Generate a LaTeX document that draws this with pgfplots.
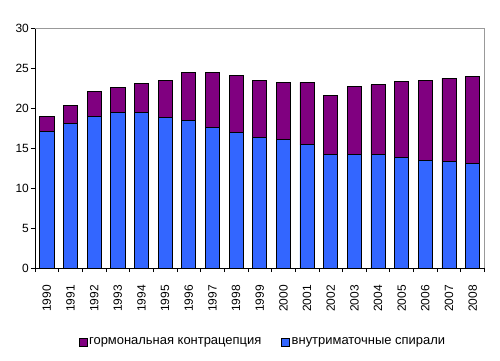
\documentclass[border=0pt]{standalone}
\usepackage{fontspec}
\setmainfont{Liberation Sans}
\usepackage{pgfplots}
\pgfplotsset{compat=1.18}
\definecolor{iudblue}{HTML}{3366FF}
\definecolor{hormpurple}{HTML}{800080}
\begin{document}
\begin{tikzpicture}[x=1bp,y=1bp]
\useasboundingbox (0,0) rectangle (500,360);
\begin{axis}[
  at={(35bp,92bp)}, anchor=south west,
  scale only axis, width=449.5bp, height=240bp,
  ybar stacked, bar width=0.6,
  xmin=-0.5, xmax=18.5, ymin=0, ymax=30,
  ytick={0,5,...,30},
  xtick={0,...,18},
  xticklabels={1990,1991,1992,1993,1994,1995,1996,1997,1998,1999,2000,2001,2002,2003,2004,2005,2006,2007,2008},
  minor xtick={-0.5,0.5,...,18.5},
  major x tick style={draw=none},
  tick align=outside,
  major tick length=4bp, minor tick length=4bp,
  tick style={black, line width=0.8pt},
  axis x line*=bottom, axis y line*=left,
  axis line style={black, line width=0.8pt, -},
  /pgf/number format/assume math mode=true,
  every tick label/.append style={font=\fontsize{12}{14}\selectfont},
  xticklabel style={rotate=90, anchor=east, inner sep=0pt},
  xticklabel shift=13bp,
  yticklabel style={inner sep=2bp},
  legend style={at={(0.507,-0.308)}, anchor=center, draw=none, legend columns=2,
    font=\fontsize{13}{15}\selectfont, /tikz/every even column/.append style={column sep=18bp}},
  legend image code/.code={\draw[#1, draw=black, line width=0.4pt] (0bp,-4bp) rectangle (8bp,4bp);},
  reverse legend,
  clip=false,
]
\addplot[fill=iudblue, draw=black, line width=0.8pt] coordinates {
(0,17.1) (1,18.1) (2,19.0) (3,19.5) (4,19.4) (5,18.8) (6,18.4) (7,17.6) (8,17.0) (9,16.3)
(10,16.05) (11,15.4) (12,14.2) (13,14.25) (14,14.2) (15,13.8) (16,13.4) (17,13.3) (18,13.1)};
\addlegendentry{внутриматочные спирали}
\addplot[fill=hormpurple, draw=black, line width=0.8pt] coordinates {
(0,1.8) (1,2.2) (2,3.05) (3,3.05) (4,3.65) (5,4.6) (6,6.0) (7,6.8) (8,7.05) (9,7.1)
(10,7.15) (11,7.8) (12,7.4) (13,8.45) (14,8.7) (15,9.5) (16,10.0) (17,10.4) (18,10.8)};
\addlegendentry{гормональная контрацепция}
\end{axis}
\begin{scope}[shift={(35bp,92bp)}]
\draw[gray!80, line width=0.8pt] (0,240) -- (449.5,240) -- (449.5,0);
\end{scope}
\end{tikzpicture}
\end{document}
